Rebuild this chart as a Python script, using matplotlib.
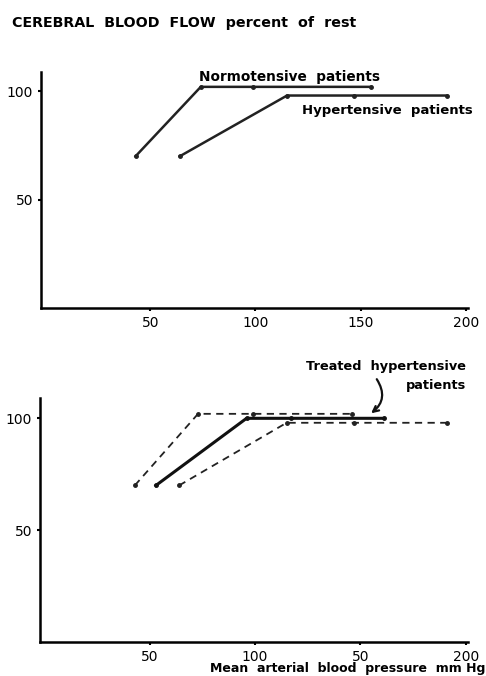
import matplotlib
matplotlib.use("Agg")
import matplotlib.pyplot as plt

# Cerebral blood flow autoregulation
normo_x = [43, 74, 99, 155]
normo_y = [70, 102, 102, 102]
hyper_x = [64, 115, 147, 191]
hyper_y = [70, 98, 98, 98]
# lower panel: normotensive dashed curve is drawn a bit shorter
normo_dash_x = [43, 73, 99, 146]
normo_dash_y = [70, 102, 102, 102]
treated_x = [53, 96, 117, 161]
treated_y = [70, 100, 100, 100]

x_ticks = [50, 100, 150, 200]
top_tick_labels = ["50", "100", "150", "200"]
bottom_tick_labels = ["50", "100", "50", "200"]
y_ticks = [50, 100]

plt.rcParams['font.family'] = ['DejaVu Sans']

fig = plt.figure(figsize=(4.86, 6.76), dpi=100)
ax1 = fig.add_axes([0.084, 0.544, 0.879, 0.350])
ax2 = fig.add_axes([0.082, 0.050, 0.881, 0.361])


def style_axes(ax, labels):
    for side in ['top', 'right']:
        ax.spines[side].set_visible(False)
    for side in ['left', 'bottom']:
        ax.spines[side].set_linewidth(1.8)
    ax.set_xlim(-2, 201)
    ax.set_ylim(0, 109)
    ax.set_xticks(x_ticks)
    ax.set_xticklabels(labels)
    ax.set_yticks(y_ticks)
    ax.tick_params(axis='both', direction='out', length=2.5, width=1.5, labelsize=10, pad=3)


# top panel
ax1.plot(normo_x, normo_y, color='#222222', lw=1.8, marker='o', ms=2.5)
ax1.plot(hyper_x, hyper_y, color='#222222', lw=1.8, marker='o', ms=2.5)
style_axes(ax1, top_tick_labels)
ax1.text(73, 103.5, "Normotensive  patients", fontsize=9.8, fontweight='bold', ha='left', va='bottom')
ax1.text(122, 94, "Hypertensive  patients", fontsize=9.5, fontweight='bold', ha='left', va='top')

# bottom panel
ax2.plot(normo_dash_x, normo_dash_y, color='#222222', lw=1.3, ls=(0, (4, 3)), marker='o', ms=2.5)
ax2.plot(hyper_x, hyper_y, color='#222222', lw=1.3, ls=(0, (4, 3)), marker='o', ms=2.5)
ax2.plot(treated_x, treated_y, color='#111111', lw=2.2, marker='o', ms=2.5)
style_axes(ax2, bottom_tick_labels)
ax2.text(200, 123, "Treated  hypertensive", fontsize=9.3, fontweight='bold', ha='right', va='center', clip_on=False)
ax2.text(200, 114.5, "patients", fontsize=9.3, fontweight='bold', ha='right', va='center', clip_on=False)
ax2.annotate("", xy=(154, 101.5), xytext=(157, 118.5),
             arrowprops=dict(arrowstyle='->', lw=1.6, color='#111111',
                             connectionstyle='arc3,rad=-0.5'),
             annotation_clip=False)

fig.text(0.025, 0.966, "CEREBRAL  BLOOD  FLOW  percent  of  rest", fontsize=10.3, fontweight='bold', va='center')
fig.text(0.999, 0.001, "Mean  arterial  blood  pressure  mm Hg", fontsize=9.0, fontweight='bold', ha='right', va='bottom')

fig.savefig("out.png", dpi=100)
